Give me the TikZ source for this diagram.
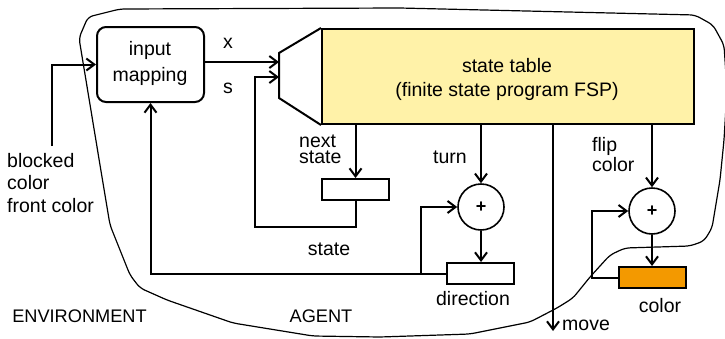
\documentclass[tikz,border=0pt]{standalone}
\usepackage{fontspec}
\setmainfont{Liberation Sans}
\usetikzlibrary{arrows.meta}
\definecolor{tableyellow}{RGB}{255,242,168}
\definecolor{regorange}{RGB}{243,153,0}
\begin{document}
\begin{tikzpicture}[x=1pt,y=-1pt,
  every node/.style={font=\fontsize{19.5}{23}\selectfont, inner sep=0pt},
  wire/.style={line width=2pt},
  arr/.style={wire,-{Straight Barb[length=8pt,width=12pt]}},
  reg/.style={draw,line width=2pt,minimum width=67pt,minimum height=21pt},
  adder/.style={draw,circle,line width=1.6pt,minimum size=46pt,
    font=\fontsize{18}{18}\selectfont\bfseries},
  lbl/.style={anchor=base},
  lblw/.style={anchor=base west},
  tight/.style={anchor=base west, align=left, font=\fontsize{19.5}{16}\selectfont},
  big/.style={font=\fontsize{18.2}{22}\selectfont},
]
\useasboundingbox (0,0) rectangle (725,338);

% agent boundary
\draw[line width=1.2pt, rounded corners=5pt]
  (79,38) -- (88,17) -- (120,9) -- (400,8) -- (695,15) -- (713,25)
  -- (724,45) -- (727,90) -- (724,140) -- (720,180) -- (712,228)
  -- (704,241) -- (690,246) -- (625,248) -- (610,255) -- (590,277)
  -- (573,298) -- (557,308) -- (530,322) -- (470,334) -- (380,337)
  -- (313,336) -- (233,323) -- (167,300) -- (140,288) -- (130,275)
  -- (110,225) -- (100,165) -- cycle;

% blocks
\node[draw, line width=2pt, rounded corners=9pt, minimum width=107pt,
  minimum height=75pt] (inmap) at (150.5,64.5) {};
\node[lbl] (inmapa) at (150,55) {input};
\node[lbl] (inmapb) at (150,81) {mapping};

\node[draw, line width=2pt, fill=tableyellow, minimum width=372pt,
  minimum height=95pt] (table) at (508,76.5) {};
\node[lbl] (tablea) at (507,72) {state table};
\node[lbl] (tableb) at (507,96) {(finite state program FSP)};
\draw[line width=2pt, line join=miter]
  (table.north west) -- (279,53) -- (279,98) -- (table.south west);
\coordinate (tin1) at (279,62);
\coordinate (tin2) at (279,77);

\node[reg] (nsreg) at (355.5,189.5) {};
\node[adder] (add1) at (481,207) {+};
\node[reg] (dirreg) at (480.5,273.5) {};
\node[adder] (add2) at (652,211) {+};
\node[reg, fill=regorange] (colreg) at (652.5,277.5) {};

\coordinate (envin) at (52,146);
\coordinate (mvout) at (553,331);

% connectors
\draw[arr] (envin) |- (inmap.west);
\draw[arr] (inmap.east |- tin1) -- (tin1);
\draw[arr] (nsreg.south) -- (355.5,227) -- (255,227) -- (255,77) -- (tin2);
\draw[arr] (nsreg.north |- table.south) -- (nsreg.north);
\draw[arr] (add1.north |- table.south) -- (add1.north);
\draw[arr] (add1.south) -- (dirreg.north -| add1.south);
\draw[arr] (dirreg.west) -| (inmap.south);
\draw[arr] (421,273.5) |- (add1.west);
\draw[arr] (mvout |- table.south) -- (mvout);
\draw[arr] (add2.north |- table.south) -- (add2.north);
\draw[arr] (add2.south) -- (colreg.north -| add2.south);
\draw[arr] (colreg.west) -- (592,277.5) |- (add2.west);

% labels
\node[lbl] (lx) at (228,48) {x};
\node[lbl] (ls) at (228,93) {s};
\node[tight] (lns) at (299,163) {next\\state};
\node[lbl] (lturn) at (450,163) {turn};
\node[tight] (lfl) at (592,171) {flip\\color};
\node[lbl] (lstate) at (329,255) {state};
\node[lbl] (ldir) at (473,305) {direction};
\node[lbl] (lcol) at (660,312) {color};
\node[lbl] (lmove) at (586,330) {move};
\node[lblw, align=left, font=\fontsize{19.5}{22.5}\selectfont] (lin)
  at (7,212) {blocked\\color\\front color};
\node[lbl, big] (lenv) at (79.5,322) {ENVIRONMENT};
\node[lbl, big] (lagent) at (321,322) {AGENT};
\end{tikzpicture}
\end{document}
